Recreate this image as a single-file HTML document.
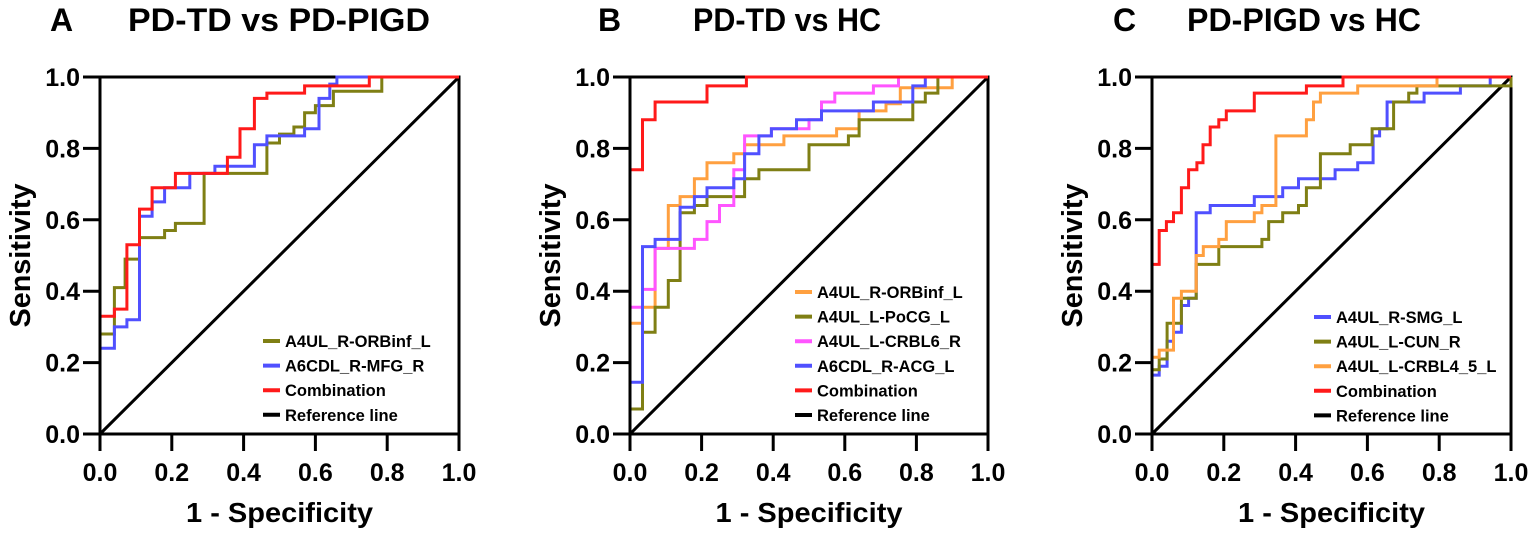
<!DOCTYPE html>
<html><head><meta charset="utf-8"><style>
html,body{margin:0;padding:0;background:#fff}
svg{display:block;font-family:"Liberation Sans",Arial,sans-serif;font-weight:bold}
</style></head><body>
<svg id="fig" width="1535" height="539" viewBox="0 0 1535 539" xmlns="http://www.w3.org/2000/svg"></svg>
<script>
// ---- Data (step points: go horizontal to fpr[i], then vertical to tpr[i]) ----
const ticks = [0, 0.2, 0.4, 0.6, 0.8, 1.0];
const tickLabels = ["0.0", "0.2", "0.4", "0.6", "0.8", "1.0"];

const aOrbFpr = [0,0.04,0.07,0.11,0.18,0.21,0.29,0.465,0.50,0.54,0.57,0.60,0.65,0.785,1];
const aOrbTpr = [0.28,0.41,0.49,0.55,0.57,0.59,0.73,0.815,0.84,0.86,0.90,0.92,0.96,1.0,1.0];
const aMfgFpr = [0,0.04,0.075,0.11,0.145,0.18,0.25,0.32,0.43,0.465,0.57,0.61,0.64,0.66,1];
const aMfgTpr = [0.24,0.30,0.32,0.61,0.65,0.69,0.73,0.75,0.81,0.835,0.855,0.94,0.98,1.0,1.0];
const aCombFpr = [0,0.04,0.075,0.11,0.145,0.21,0.355,0.39,0.43,0.465,0.57,0.75,1];
const aCombTpr = [0.33,0.35,0.53,0.63,0.69,0.73,0.775,0.855,0.94,0.955,0.975,1.0,1.0];

const bOrbFpr = [0,0.035,0.07,0.107,0.14,0.18,0.215,0.29,0.32,0.43,0.577,0.64,0.715,0.755,0.9,1];
const bOrbTpr = [0.31,0.355,0.52,0.64,0.665,0.715,0.76,0.785,0.81,0.835,0.855,0.905,0.925,0.97,1.0,1.0];
const bPocgFpr = [0,0.035,0.07,0.107,0.14,0.18,0.215,0.32,0.36,0.50,0.61,0.64,0.79,0.825,0.86,1];
const bPocgTpr = [0.07,0.285,0.355,0.43,0.62,0.64,0.665,0.715,0.74,0.81,0.835,0.88,0.93,0.955,1.0,1.0];
const bCrblFpr = [0,0.035,0.07,0.18,0.215,0.25,0.29,0.32,0.395,0.50,0.535,0.572,0.68,0.75,1];
const bCrblTpr = [0.355,0.405,0.52,0.545,0.595,0.64,0.74,0.835,0.855,0.88,0.93,0.955,0.975,1.0,1.0];
const bAcgFpr = [0,0.035,0.07,0.14,0.18,0.215,0.29,0.32,0.36,0.395,0.465,0.535,0.68,0.79,0.825,1];
const bAcgTpr = [0.145,0.525,0.545,0.635,0.665,0.69,0.715,0.785,0.835,0.855,0.88,0.905,0.93,0.975,1.0,1.0];
const bCombFpr = [0,0.035,0.07,0.215,0.325,1];
const bCombTpr = [0.74,0.88,0.93,0.975,1.0,1.0];

const cSmgFpr = [0,0.02,0.042,0.06,0.082,0.102,0.123,0.162,0.285,0.364,0.408,0.51,0.573,0.616,0.634,0.655,0.758,0.859,0.942,1];
const cSmgTpr = [0.165,0.19,0.26,0.285,0.36,0.38,0.62,0.64,0.665,0.69,0.715,0.74,0.76,0.835,0.855,0.93,0.955,0.975,1.0,1.0];
const cCunFpr = [0,0.02,0.042,0.082,0.123,0.186,0.306,0.325,0.364,0.408,0.43,0.469,0.552,0.613,0.673,0.715,0.738,1.0];
const cCunTpr = [0.18,0.21,0.31,0.38,0.475,0.525,0.545,0.595,0.62,0.64,0.69,0.785,0.81,0.855,0.93,0.955,0.975,1.0];
const cCrblFpr = [0,0.02,0.06,0.082,0.123,0.143,0.186,0.207,0.285,0.306,0.345,0.43,0.45,0.469,0.573,0.794,1];
const cCrblTpr = [0.215,0.235,0.38,0.40,0.50,0.525,0.545,0.595,0.62,0.64,0.835,0.88,0.93,0.955,0.975,1.0,1.0];
const cCombFpr = [0,0.02,0.04,0.06,0.082,0.102,0.125,0.142,0.162,0.186,0.207,0.285,0.43,0.532,1];
const cCombTpr = [0.475,0.57,0.595,0.62,0.69,0.74,0.76,0.81,0.86,0.88,0.905,0.955,0.975,1.0,1.0];

const OLIVE="#7f7f14", BLUE="#5050ff", RED="#ff1a1a", ORANGE="#ffa040", PINK="#ff55ff", BLACK="#000";

const NS="http://www.w3.org/2000/svg";
const svg=document.getElementById('fig');
function mk(tag, attrs, parent){const e=document.createElementNS(NS,tag);for(const k in attrs)e.setAttribute(k,attrs[k]);(parent||svg).appendChild(e);return e;}

const panels=[
 {id:'a',letter:'A',letterX:50,title:'PD-TD vs PD-PIGD',titleX:128,titleW:302,x0:100,x1:459,
  series:[{n:'A4UL_R-ORBinf_L',c:OLIVE,f:aOrbFpr,t:aOrbTpr},{n:'A6CDL_R-MFG_R',c:BLUE,f:aMfgFpr,t:aMfgTpr},{n:'Combination',c:RED,f:aCombFpr,t:aCombTpr}],
  legX:263,legY:341},
 {id:'b',letter:'B',letterX:598,title:'PD-TD vs HC',titleX:693,titleW:188,x0:630,x1:988,
  series:[{n:'A4UL_R-ORBinf_L',c:ORANGE,f:bOrbFpr,t:bOrbTpr},{n:'A4UL_L-PoCG_L',c:OLIVE,f:bPocgFpr,t:bPocgTpr},{n:'A4UL_L-CRBL6_R',c:PINK,f:bCrblFpr,t:bCrblTpr},{n:'A6CDL_R-ACG_L',c:BLUE,f:bAcgFpr,t:bAcgTpr},{n:'Combination',c:RED,f:bCombFpr,t:bCombTpr}],
  legX:795,legY:292},
 {id:'c',letter:'C',letterX:1113,title:'PD-PIGD vs HC',titleX:1187,titleW:234,x0:1152,x1:1511,
  series:[{n:'A4UL_R-SMG_L',c:BLUE,f:cSmgFpr,t:cSmgTpr},{n:'A4UL_L-CUN_R',c:OLIVE,f:cCunFpr,t:cCunTpr},{n:'A4UL_L-CRBL4_5_L',c:ORANGE,f:cCrblFpr,t:cCrblTpr},{n:'Combination',c:RED,f:cCombFpr,t:cCombTpr}],
  legX:1314,legY:317}
];
const Y0=434, Y1=77;

panels.forEach(p=>{
  const sx=v=>p.x0+v*(p.x1-p.x0), sy=v=>Y0-v*(Y0-Y1);
  const g=mk('g',{});
  
  
  const L=mk('text',{x:p.letterX,y:31,'font-size':32},g);L.textContent=p.letter;
  
  
  const T=mk('text',{x:p.titleX,y:31,'font-size':32,textLength:p.titleW,lengthAdjust:'spacingAndGlyphs'},g);T.textContent=p.title;
  
  
  const fr=mk('path',{d:`M${sx(0)} ${sy(1)} H${sx(1)} V${sy(0)}`,stroke:BLACK,'stroke-width':3,fill:'none'},g);
  
  
  const rl=mk('line',{x1:sx(0),y1:sy(0),x2:sx(1),y2:sy(1),stroke:BLACK,'stroke-width':3},g);
  
  
  p.series.forEach(s=>{
    let d=`M${sx(0)} ${sy(0)}`;
    for(let i=0;i<s.f.length;i++){d+=` H${sx(s.f[i]).toFixed(1)} V${sy(s.t[i]).toFixed(1)}`;}
    const pa=mk('path',{d:d,stroke:s.c,'stroke-width':3,fill:'none'},g);
    
    
  });
  const ax=mk('path',{d:`M${sx(0)} ${sy(1)-1.5} V${sy(0)} H${sx(1)+1.5}`,stroke:BLACK,'stroke-width':3,fill:'none'},g);
  
  
  ticks.forEach((v,i)=>{
    mk('line',{x1:sx(0)-17,y1:sy(v),x2:sx(0),y2:sy(v),stroke:BLACK,'stroke-width':3},g);
    mk('line',{x1:sx(v),y1:sy(0),x2:sx(v),y2:sy(0)+17,stroke:BLACK,'stroke-width':3},g);
    const yl=mk('text',{x:sx(0)-20,y:sy(v)+9,'font-size':25,'text-anchor':'end'},g);yl.textContent=tickLabels[i];
    
    
    const xl=mk('text',{x:sx(v),y:481,'font-size':25,'text-anchor':'middle'},g);xl.textContent=tickLabels[i];
    
    
  });
  const cx=(p.x0+p.x1)/2;
  const xt=mk('text',{x:cx,y:522,'font-size':28,'text-anchor':'middle',textLength:187,lengthAdjust:'spacingAndGlyphs'},g);xt.textContent='1 - Specificity';
  
  
  const yx=p.x0-70, yy=(Y0+Y1)/2;
  const yt=mk('text',{x:yx,y:yy,'font-size':29,'text-anchor':'middle',textLength:144,lengthAdjust:'spacingAndGlyphs',transform:`rotate(-90 ${yx} ${yy})`},g);yt.textContent='Sensitivity';
  
  
  const items=p.series.map(s=>({n:s.n,c:s.c})).concat([{n:'Reference line',c:BLACK}]);
  items.forEach((it,i)=>{
    const y=p.legY+i*24.6;
    const lg=mk('g',{},g);
    
    
    mk('line',{x1:p.legX,y1:y,x2:p.legX+17,y2:y,stroke:it.c,'stroke-width':4},lg);
    const tx=mk('text',{x:p.legX+22,y:y+6,'font-size':16.5},lg);tx.textContent=it.n;
  });
});
</script>
</body></html>
